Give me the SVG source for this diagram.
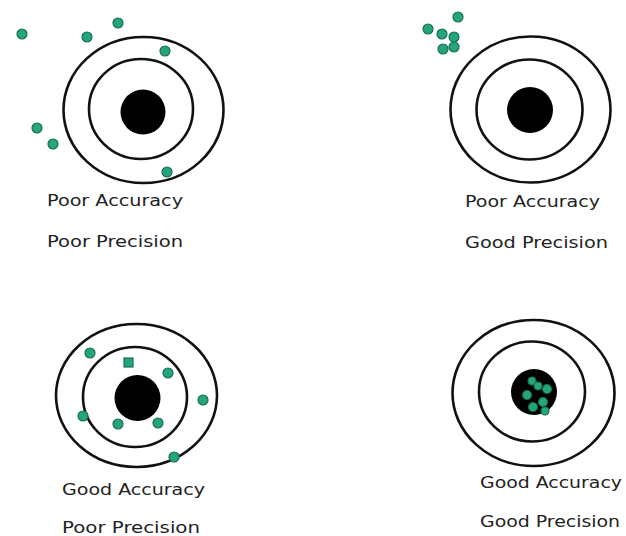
<svg xmlns="http://www.w3.org/2000/svg" width="626" height="536" viewBox="0 0 626 536">
<style>
.ring{fill:none;stroke:#111;stroke-width:2.6}
.bull{fill:#000}
.dot{fill:#25a67a;stroke:#17704f;stroke-width:1.2}
.lbl{font-family:"DejaVu Sans","Verdana",sans-serif;font-size:16px;fill:#222}
</style>
<rect width="626" height="536" fill="#fff"/>
<g id="target-poor-acc-poor-prec">
<ellipse class="ring" cx="143.5" cy="110" rx="80" ry="73"/>
<ellipse class="ring" cx="141" cy="109" rx="52" ry="50"/>
<circle class="bull" cx="143" cy="112" r="22.5"/>
<circle class="dot" cx="22" cy="34" r="5"/>
<circle class="dot" cx="87" cy="37" r="5"/>
<circle class="dot" cx="118" cy="23" r="5"/>
<circle class="dot" cx="165" cy="51" r="5"/>
<circle class="dot" cx="37" cy="128" r="5"/>
<circle class="dot" cx="53" cy="144" r="5"/>
<circle class="dot" cx="167" cy="172" r="5"/>
<text class="lbl" x="47" y="206" textLength="136" lengthAdjust="spacingAndGlyphs">Poor Accuracy</text>
<text class="lbl" x="47" y="247" textLength="136" lengthAdjust="spacingAndGlyphs">Poor Precision</text>
</g>
<g id="target-poor-acc-good-prec">
<ellipse class="ring" cx="530.5" cy="109.5" rx="80" ry="73"/>
<ellipse class="ring" cx="529.5" cy="109.5" rx="53" ry="50"/>
<circle class="bull" cx="530" cy="110" r="23"/>
<circle class="dot" cx="428" cy="29" r="5"/>
<circle class="dot" cx="458" cy="17" r="5"/>
<circle class="dot" cx="442" cy="34" r="5"/>
<circle class="dot" cx="454" cy="37" r="5"/>
<circle class="dot" cx="443" cy="49" r="5"/>
<circle class="dot" cx="454" cy="47" r="5"/>
<text class="lbl" x="465" y="207" textLength="135" lengthAdjust="spacingAndGlyphs">Poor Accuracy</text>
<text class="lbl" x="465" y="248" textLength="143" lengthAdjust="spacingAndGlyphs">Good Precision</text>
</g>
<g id="target-good-acc-poor-prec">
<ellipse class="ring" cx="136.5" cy="395.5" rx="80.5" ry="71.5"/>
<ellipse class="ring" cx="135" cy="397" rx="52" ry="50"/>
<circle class="bull" cx="137.5" cy="398" r="23"/>
<circle class="dot" cx="90" cy="353" r="5"/>
<rect class="dot" x="124" y="358" width="9" height="9"/>
<circle class="dot" cx="168" cy="373" r="5"/>
<circle class="dot" cx="203" cy="400" r="5"/>
<circle class="dot" cx="83" cy="416" r="5"/>
<circle class="dot" cx="118" cy="424" r="5"/>
<circle class="dot" cx="158" cy="423" r="5"/>
<circle class="dot" cx="174" cy="457" r="5"/>
<text class="lbl" x="62" y="495" textLength="143" lengthAdjust="spacingAndGlyphs">Good Accuracy</text>
<text class="lbl" x="62" y="533" textLength="138" lengthAdjust="spacingAndGlyphs">Poor Precision</text>
</g>
<g id="target-good-acc-good-prec">
<ellipse class="ring" cx="533.5" cy="393" rx="81" ry="73"/>
<ellipse class="ring" cx="532" cy="391.5" rx="53" ry="50"/>
<circle class="bull" cx="534" cy="392" r="23"/>
<circle class="dot" cx="532" cy="381" r="4"/>
<circle class="dot" cx="538" cy="386" r="4"/>
<circle class="dot" cx="547" cy="389" r="4.5"/>
<circle class="dot" cx="527" cy="395" r="4.5"/>
<circle class="dot" cx="543" cy="402" r="4.5"/>
<circle class="dot" cx="533" cy="407" r="4.5"/>
<circle class="dot" cx="545" cy="411" r="4"/>
<text class="lbl" x="480" y="488" textLength="142" lengthAdjust="spacingAndGlyphs">Good Accuracy</text>
<text class="lbl" x="480" y="527" textLength="140" lengthAdjust="spacingAndGlyphs">Good Precision</text>
</g>
</svg>
